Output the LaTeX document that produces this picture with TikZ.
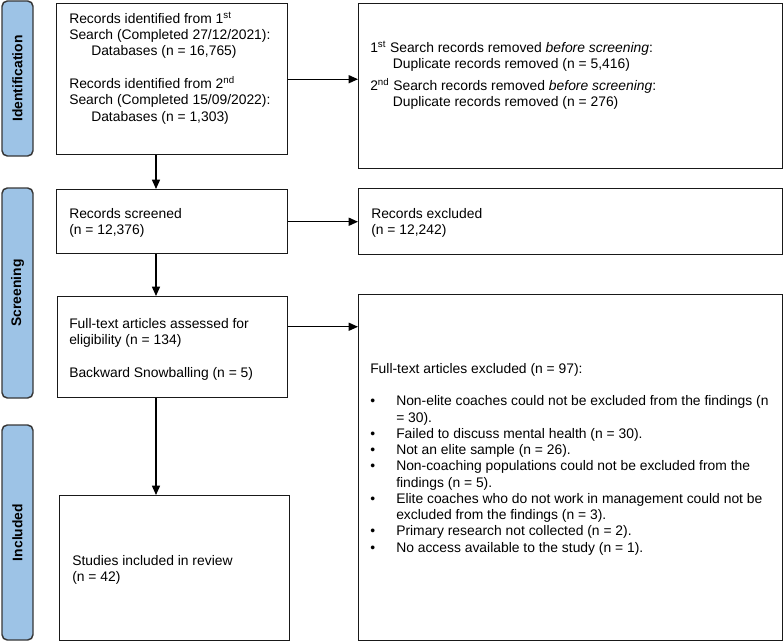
\documentclass[tikz,border=0pt]{standalone}
\usepackage{fontspec}
\setmainfont{Liberation Sans}
\usetikzlibrary{arrows.meta,calc}
\definecolor{stagefill}{RGB}{157,195,230}
\definecolor{stageline}{RGB}{55,55,55}
\begin{document}
\begin{tikzpicture}[x=0.75pt,y=-0.75pt,
 pbox/.style={draw=black!90,line width=1.1pt,fill=white,inner sep=0pt,anchor=north west},
 stage/.style={draw=stageline,fill=stagefill,line width=1.1pt,rounded corners=4pt,rotate=90,minimum height=23.25pt,inner sep=0pt,font=\fontsize{10.4}{12}\selectfont\bfseries},
 txt/.style={anchor=north west,inner sep=0pt,align=left,font=\fontsize{10.4}{12.2}\selectfont},
 arr/.style={-{Triangle[length=7pt,width=6pt]},line width=1.1pt}]
\useasboundingbox (0,0) rectangle (784,642);
% stage labels
\node[stage,minimum width=116.25pt] (s1) at (17.5,78.5) {Identification};
\node[stage,minimum width=157.5pt] (s2) at (17.5,293) {Screening};
\node[stage,minimum width=161.25pt] (s3) at (17.5,532.5) {Included};
% boxes
\node[pbox,minimum width=173.25pt,minimum height=113.25pt] (b1) at (56,3) {};
\node[pbox,minimum width=318pt,minimum height=123.75pt] (r1) at (358,3) {};
\node[pbox,minimum width=173.25pt,minimum height=48pt] (b2) at (56,189) {};
\node[pbox,minimum width=318pt,minimum height=49.5pt] (r2) at (358,188) {};
\node[pbox,minimum width=172.5pt,minimum height=75.75pt] (b3) at (57,296) {};
\node[pbox,minimum width=318pt,minimum height=259.5pt] (r3) at (358,294) {};
\node[pbox,minimum width=172.5pt,minimum height=108.75pt] (b4) at (59,495) {};
% texts
\node[txt] (t1) at (69,11.8) {\strut Records identified from 1\textsuperscript{st}\\
Search (Completed 27/12/2021):\\
\hspace*{16.5pt}Databases (n = 16,765)\\[12.2pt]
Records identified from 2\textsuperscript{nd}\\
Search (Completed 15/09/2022):\\
\hspace*{16.5pt}Databases (n = 1,303)};
\node[txt] (t2) at (370,40.8) {\strut 1\textsuperscript{st} Search records removed \textit{before screening}:\\
\hspace*{17pt}Duplicate records removed (n = 5,416)\\[4.3pt]
2\textsuperscript{nd} Search records removed \textit{before screening}:\\
\hspace*{17pt}Duplicate records removed (n = 276)};
\node[txt] (t3) at (69,207) {\strut Records screened\\(n = 12,376)};
\node[txt] (t4) at (371,207) {\strut Records excluded\\(n = 12,242)};
\node[txt] (t5) at (69,317) {\strut Full-text articles assessed for\\eligibility (n = 134)\\[12.2pt]Backward Snowballing (n = 5)};
\node[txt] (t6) at (370,361.6) {\strut Full-text articles excluded (n = 97):\\[12.2pt]
\makebox[19.5pt][l]{\textbullet}Non-elite coaches could not be excluded from the findings (n\\
\hspace*{19.5pt}= 30).\\
\makebox[19.5pt][l]{\textbullet}Failed to discuss mental health (n = 30).\\
\makebox[19.5pt][l]{\textbullet}Not an elite sample (n = 26).\\
\makebox[19.5pt][l]{\textbullet}Non-coaching populations could not be excluded from the\\
\hspace*{19.5pt}findings (n = 5).\\
\makebox[19.5pt][l]{\textbullet}Elite coaches who do not work in management could not be\\
\hspace*{19.5pt}excluded from the findings (n = 3).\\
\makebox[19.5pt][l]{\textbullet}Primary research not collected (n = 2).\\
\makebox[19.5pt][l]{\textbullet}No access available to the study (n = 1).};
\node[txt] (t7) at (72,553.8) {\strut Studies included in review\\(n = 42)};
% arrows
\coordinate (ax) at (156,0);
\coordinate (c3) at ($(b3.north east)!0.3!(b3.south east)$);
\draw[arr] (b1.east) -- (b1.east -| r1.west);
\draw[arr] (b1.south -| ax) -- (b2.north -| ax);
\draw[arr] (b2.east) -- (b2.east -| r2.west);
\draw[arr] (b2.south -| ax) -- (b3.north -| ax);
\draw[arr] (c3) -- (c3 -| r3.west);
\draw[arr] (b3.south -| ax) -- (b4.north -| ax);
\end{tikzpicture}
\end{document}
